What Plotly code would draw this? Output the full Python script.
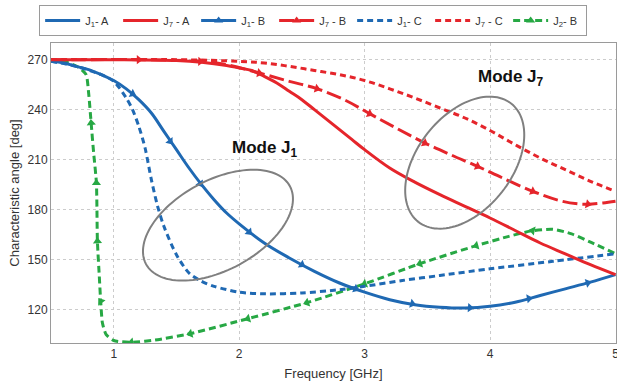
import math
import plotly.graph_objects as go

# ---------------- data ----------------
j1a_freq = [0.5, 0.6, 0.7, 0.8, 0.9, 1.0, 1.1, 1.2, 1.3, 1.4, 1.5, 1.6, 1.7, 1.8, 1.9, 2.0,
            2.2, 2.4, 2.6, 2.8, 3.0, 3.2, 3.4, 3.6, 3.8, 4.0, 4.2, 4.4, 4.6, 4.8, 5.0]
j1a_angle = [269, 268, 266, 264, 261, 257.5, 252.5, 246, 238, 227, 216, 205, 195, 186, 178, 171.5,
             160, 151, 143, 136, 130.5, 126, 123, 121.5, 121, 122, 124.5, 128.5, 132.5, 136.5, 141]

j7a_freq = [0.5, 1.0, 1.5, 1.7, 1.9, 2.0, 2.1, 2.2, 2.3, 2.4, 2.5, 2.6, 2.7, 2.8, 2.9, 3.0,
            3.2, 3.4, 3.6, 3.8, 4.0, 4.2, 4.4, 4.6, 4.8, 5.0]
j7a_angle = [270, 270, 269.5, 268.5, 266.5, 265, 263.5, 260, 256, 251, 246, 240, 234, 228, 222, 216,
             205, 196.5, 189, 182, 175, 167.5, 160, 153.5, 147, 141]

j1b_freq = [0.73, 1.15, 1.45, 1.69, 2.08, 2.5, 2.93, 3.38, 3.84, 4.31, 4.78]
j1b_angle = [265, 249.5, 221, 195.5, 166.5, 147, 132.5, 123.5, 121.2, 126.7, 136.1]

j7b_freq = [0.5, 0.72, 1.2, 1.69, 1.9, 2.16, 2.4, 2.62, 2.85, 3.04, 3.25, 3.48, 3.7, 3.9, 4.1,
            4.34, 4.55, 4.7, 4.78, 4.9, 5.0]
j7b_angle = [270, 270, 270, 269, 267, 262, 257, 252.6, 245.5, 237.6, 229, 220, 212.5, 206, 199,
             191, 185.5, 183.5, 183.3, 184, 185]
j7b_mark_freq = [0.72, 1.2, 1.69, 2.16, 2.62, 3.04, 3.48, 3.90, 4.34, 4.78]
j7b_mark_angle = [270, 270, 269, 262, 252.6, 237.6, 220, 206, 191, 183.3]

j1c_freq = [0.5, 0.7, 0.9, 1.0, 1.1, 1.15, 1.2, 1.25, 1.3, 1.35, 1.4, 1.5, 1.6, 1.7, 1.8, 2.0,
            2.2, 2.5, 2.8, 3.0, 3.3, 3.6, 4.0, 4.5, 5.0]
j1c_angle = [269, 266, 261, 257, 247, 240, 230, 217, 198, 182, 170, 153, 142, 137, 134, 130.5,
             129.5, 130, 132, 134, 137.5, 140.5, 144.5, 149, 153.5]

j7c_freq = [0.5, 1.5, 2.0, 2.2, 2.4, 2.6, 2.8, 3.0, 3.2, 3.4, 3.6, 3.8, 4.0, 4.2, 4.4, 4.6, 4.8, 5.0]
j7c_angle = [270, 270, 269, 268, 266, 263.5, 261, 257.5, 252.5, 247, 241, 235, 227.5, 219, 211,
             204, 197, 191]

j2b_freq = [0.5, 0.62, 0.72, 0.78, 0.80, 0.82, 0.84, 0.862, 0.87, 0.885, 0.896, 0.91, 0.94, 1.0,
            1.14, 1.35, 1.61, 2.07, 2.54, 3.0, 3.44, 3.89, 4.15, 4.34, 4.5, 4.65, 4.81, 5.0]
j2b_angle = [270, 268.5, 265.5, 261, 250, 232, 214, 196, 161, 140, 125, 112, 105, 101.5,
             100.4, 102, 105.6, 114.6, 124.2, 135.5, 147.6, 158.4, 164, 167.4, 168.2, 165.5, 160.2, 153.6]
j2b_mark_freq = [4.81, 4.34, 3.89, 3.44, 3.0, 2.54, 2.07, 1.61, 1.14, 0.896, 0.87, 0.862, 0.82]
j2b_mark_angle = [160.2, 167.4, 158.4, 147.6, 135.5, 124.2, 114.6, 105.6, 100.4, 125, 161, 196, 232]

x_ticks = [1, 2, 3, 4, 5]
y_ticks = [120, 150, 180, 210, 240, 270]

# ---------------- styling ----------------
BLUE = "#1f69b3"
RED = "#e5252b"
GREEN = "#27a844"
GRAY = "#808080"
FONT = "Liberation Sans, Arial, sans-serif"

W, H = 617, 385
M_L, M_R, M_T, M_B = 51, 1, 43, 42
X_RANGE = [0.5, 5.004]
Y_RANGE = [100, 280]

fig = go.Figure()

def line_trace(x, y, color, dash, name, showlegend, rank, smoothing=1.0):
    fig.add_trace(go.Scatter(
        x=x, y=y, mode="lines", name=name, showlegend=showlegend, legendrank=rank,
        line=dict(color=color, width=3, dash=dash, shape="spline", smoothing=smoothing),
        hoverinfo="skip"))

def marker_trace(x, y, color):
    fig.add_trace(go.Scatter(
        x=x, y=y, mode="markers", showlegend=False,
        marker=dict(symbol="triangle-up", size=8, color=color, angleref="previous"),
        hoverinfo="skip"))

def legend_only(color, dash, name, rank):
    fig.add_trace(go.Scatter(
        x=[None], y=[None], mode="lines+markers", name=name, legendrank=rank,
        line=dict(color=color, width=3, dash=dash),
        marker=dict(symbol="triangle-up", size=8, color=color)))

# J2-B
line_trace(j2b_freq, j2b_angle, GREEN, "7px,4px", "J<sub>2</sub>- B", False, 7, smoothing=0.6)
marker_trace(j2b_mark_freq, j2b_mark_angle, GREEN)
# J1-C, J7-C
line_trace(j1c_freq, j1c_angle, BLUE, "6px,4px", "J<sub>1</sub>- C", True, 5, smoothing=0.8)
line_trace(j7c_freq, j7c_angle, RED, "6px,4px", "J<sub>7</sub> - C", True, 6)
# J7-B
line_trace(j7b_freq, j7b_angle, RED, "15px,5px", "J<sub>7</sub> - B", False, 4)
marker_trace(j7b_mark_freq, j7b_mark_angle, RED)
# J1-A / J1-B
line_trace(j1a_freq, j1a_angle, BLUE, "solid", "J<sub>1</sub>- A", True, 1)
marker_trace(j1b_freq, j1b_angle, BLUE)
# J7-A
line_trace(j7a_freq, j7a_angle, RED, "solid", "J<sub>7</sub> - A", True, 2)

legend_only(BLUE, "solid", "J<sub>1</sub>- B", 3)
legend_only(RED, "15px,5px", "J<sub>7</sub> - B", 4)
legend_only(GREEN, "7px,4px", "J<sub>2</sub>- B", 7)

# ---------------- ellipses (annotation shapes) ----------------
pw = W - M_L - M_R
ph = H - M_T - M_B
px_per_x = pw / (X_RANGE[1] - X_RANGE[0])
px_per_y = ph / (Y_RANGE[1] - Y_RANGE[0])

def ellipse_path(cx, cy, a_px, b_px, theta_deg, n=120):
    th = math.radians(theta_deg)
    pts = []
    for i in range(n + 1):
        t = 2 * math.pi * i / n
        dx = a_px * math.cos(t) * math.cos(th) - b_px * math.sin(t) * math.sin(th)
        dy = a_px * math.cos(t) * math.sin(th) + b_px * math.sin(t) * math.cos(th)
        pts.append((cx + dx / px_per_x, cy + dy / px_per_y))
    return "M " + " L ".join(f"{x:.4f},{y:.3f}" for x, y in pts) + " Z"

fig.add_shape(type="path", xref="x", yref="y",
              path=ellipse_path(1.831, 170.7, 81.8, 44.8, 28.5),
              line=dict(color=GRAY, width=2))
fig.add_shape(type="path", xref="x", yref="y",
              path=ellipse_path(3.798, 208.2, 75.2, 47.4, 51.9),
              line=dict(color=GRAY, width=2))

fig.add_annotation(x=2.204, y=216.6, xref="x", yref="y", showarrow=False,
                   text="<b>Mode J<sub>1</sub></b>", font=dict(size=17, color="#111", family=FONT))
fig.add_annotation(x=4.168, y=259.2, xref="x", yref="y", showarrow=False,
                   text="<b>Mode J<sub>7</sub></b>", font=dict(size=17, color="#111", family=FONT))

axis_common = dict(showline=True, mirror=True, linecolor="#9a9a9a", linewidth=1,
                   showgrid=True, gridcolor="#cccccc", griddash="dot", gridwidth=1,
                   zeroline=False, ticks="", tickfont=dict(size=12, color="#333", family=FONT))

fig.update_xaxes(range=X_RANGE, tickvals=x_ticks, ticktext=[str(v) for v in x_ticks],
                 ticklabeloverflow="allow",
                 title=dict(text="Frequency [GHz]", font=dict(size=13, color="#333", family=FONT),
                            standoff=8), **axis_common)
fig.update_yaxes(range=Y_RANGE, tickvals=y_ticks, ticktext=[str(v) for v in y_ticks],
                 title=dict(text="Characteristic angle [deg]", font=dict(size=13, color="#333", family=FONT),
                            standoff=5), **axis_common)

fig.update_layout(
    width=W, height=H,
    margin=dict(l=M_L, r=M_R, t=M_T, b=M_B, autoexpand=False),
    paper_bgcolor="white", plot_bgcolor="white",
    font=dict(family=FONT, color="#333"),
    legend=dict(orientation="h", x=-0.021, y=1.127, xanchor="left", yanchor="top",
                bordercolor="#9a9a9a", borderwidth=1, bgcolor="white",
                font=dict(size=11, color="#333", family=FONT),
                entrywidth=28, entrywidthmode="pixels", itemwidth=35, traceorder="normal"),
)

fig.write_html("out.html", config={"displayModeBar": False},
               post_script="document.body.style.margin='0';document.body.style.padding='0';")
